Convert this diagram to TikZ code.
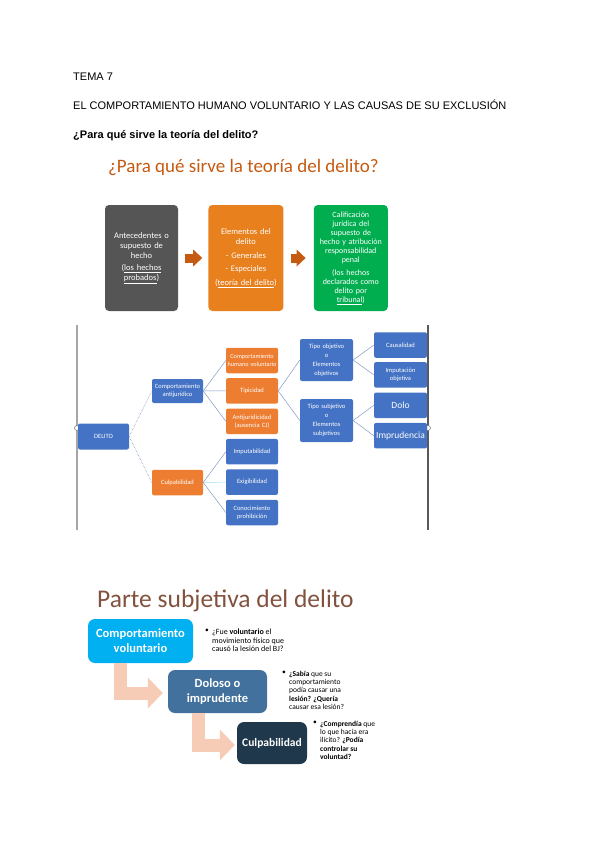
\documentclass[tikz,border=0pt]{standalone}
\usepackage{fontspec}
\setmainfont{Liberation Sans}
\newfontfamily\calibri{Carlito}
\usetikzlibrary{positioning}
\usetikzlibrary{calc}
\usetikzlibrary{arrows.meta}

\definecolor{gris}{RGB}{85,85,85}
\definecolor{naranja}{RGB}{232,128,30}
\definecolor{verde}{RGB}{0,174,80}
\definecolor{flecha}{RGB}{197,90,17}
\definecolor{azul}{RGB}{68,114,196}
\definecolor{naranjo}{RGB}{237,125,49}
\definecolor{linea}{RGB}{130,155,198}
\definecolor{marron}{RGB}{130,82,62}
\definecolor{cian}{RGB}{0,176,240}
\definecolor{acero}{RGB}{65,113,156}
\definecolor{marino}{RGB}{32,56,76}
\definecolor{salmon}{RGB}{246,204,182}

\tikzset{
    cabecera/.style={anchor=base west, inner sep=0pt, font=\fontsize{11}{13}\selectfont},
    topbox/.style={rounded corners=4pt, text=white, align=center, minimum height=106pt,
        inner sep=2pt, font=\calibri\fontsize{8.5}{10}\selectfont},
    blockarrow/.style={draw=flecha, line width=9pt, -{Triangle[length=9pt, width=17pt, line width=0pt]}},
    tbox/.style={rounded corners=2pt, text=white, align=center, minimum width=52pt, text width=51pt,
        minimum height=25.5pt, inner sep=0.5pt, font=\calibri\fontsize{6.5}{7.8}\selectfont},
    azulbox/.style={tbox, fill=azul},
    naranjobox/.style={tbox, fill=naranjo},
    rama/.style={draw=linea, line width=0.5pt},
    eje/.style={line width=1.4pt},
    bola/.style={circle, draw=gray, fill=white, inner sep=0pt, minimum size=5pt, line width=0.6pt},
    pasobox/.style={rounded corners=7pt, text=white, align=center, inner sep=2pt,
        font=\calibri\bfseries\fontsize{12.5}{15}\selectfont},
    bentarrow/.style={draw=salmon, line width=13pt, line join=miter,
        -{Triangle[length=15pt, width=31pt, line width=0pt]}},
    pregunta/.style={anchor=north west, inner sep=0pt, align=left, font=\calibri\fontsize{7.5}{8.2}\selectfont}
}

\begin{document}
\begin{tikzpicture}[x=1pt, y=-1pt]
    \useasboundingbox (0,0) rectangle (600,848);

    % encabezado del tema
    \node[cabecera] (tema) at (73,81) {TEMA 7};
    \node[cabecera] (capitulo) at (73,110) {EL COMPORTAMIENTO HUMANO VOLUNTARIO Y LAS CAUSAS DE SU EXCLUSIÓN};
    \node[cabecera, font=\bfseries\fontsize{11}{13}\selectfont] (pregunta) at (73,139) {¿Para qué sirve la teoría del delito?};

    % primera lámina
    \node[anchor=base west, inner sep=0pt, text=flecha, font=\calibri\fontsize{19}{22}\selectfont] (titulo1) at (108,172) {¿Para qué sirve la teoría del delito?};

    \node[topbox, fill=gris, minimum width=73pt, text width=68pt] (antec) at (141.5,258)
        {Antecedentes o\\supuesto de\\hecho\\[2pt](\underline{los hechos}\\\underline{probados})};
    \node[topbox, fill=naranja, minimum width=75pt, text width=70pt, right=30pt of antec] (elem)
        {Elementos del\\delito\\[4pt]- Generales\\[3pt]- Especiales\\[4pt](\underline{teoría del delito})};
    \node[topbox, fill=verde, minimum width=74pt, text width=70pt, right=30pt of elem,
        font=\calibri\fontsize{8}{9}\selectfont] (calif)
        {Calificación\\jurídica del\\supuesto de\\hecho y atribución\\responsabilidad\\penal\\[4pt](los hechos\\declarados como\\delito por\\\underline{tribunal})};

    \draw[blockarrow] ([xshift=7pt]antec.east) -- ([xshift=-6pt]elem.west);
    \draw[blockarrow] ([xshift=7pt]elem.east) -- ([xshift=-8pt]calif.west);

    % esquema del delito
    \draw[eje, draw=gray!70] (77,325) -- (77,530);
    \draw[eje, draw=black!65] (428,325) -- (428,530);
    \node[bola] (bolaizq) at (77,428) {};
    \node[bola] (boladch) at (428,428) {};

    \node[azulbox, minimum width=51pt, text width=50pt, minimum height=26pt] (delito) at (103.5,436.5) {DELITO};
    \node[azulbox, minimum width=51pt, text width=50pt, minimum height=24pt] (antij) at (177.5,391) {Comportamiento\\antijurídico};
    \node[naranjobox, minimum width=51pt, text width=50pt] (culp) at (177.5,482.5) {Culpabilidad};

    \node[naranjobox, font=\calibri\fontsize{6.2}{7.5}\selectfont] (hum) at (252,360.5) {Comportamiento\\humano voluntario};
    \node[naranjobox, below=4.5pt of hum] (tip) {Tipicidad};
    \node[naranjobox, below=4.5pt of tip] (antj) {Antijuridicidad\\(ausencia CJ)};
    \node[azulbox, below=4.5pt of antj] (imput) {Imputabilidad};
    \node[azulbox, below=4.5pt of imput] (exig) {Exigibilidad};
    \node[azulbox, below=4.5pt of exig] (conoc) {Conocimiento\\prohibición};

    \node[azulbox, minimum width=53pt, minimum height=42pt, font=\calibri\fontsize{6.5}{9}\selectfont] (tobj) at (326.5,360)
        {Tipo objetivo\\o\\Elementos\\objetivos};
    \node[azulbox, minimum width=53pt, minimum height=43pt, font=\calibri\fontsize{6.5}{9}\selectfont] (tsub) at (326.5,420.5)
        {Tipo subjetivo\\o\\Elementos\\subjetivos};

    \node[azulbox, minimum width=53pt] (caus) at (400.5,345) {Causalidad};
    \node[azulbox, minimum width=53pt, below=4pt of caus] (impobj) {Imputación\\objetiva};
    \node[azulbox, minimum width=53pt, below=4.5pt of impobj, font=\calibri\fontsize{9.5}{11}\selectfont] (dolo) {Dolo};
    \node[azulbox, minimum width=53pt, below=4.5pt of dolo, font=\calibri\fontsize{9.5}{11}\selectfont] (impr) {Imprudencia};

    \draw[rama, densely dotted, line width=0.7pt] (delito.east) -- (antij.west);
    \draw[rama, densely dotted, line width=0.7pt] (delito.east) -- (culp.west);
    \draw[rama] (antij.east) -- (hum.west);
    \draw[rama] (antij.east) -- (tip.west);
    \draw[rama] (antij.east) -- (antj.west);
    \draw[rama] (culp.east) -- (imput.west);
    \draw[rama, draw=cian!40] (culp.east) -- (exig.west);
    \draw[rama] (culp.east) -- (conoc.west);
    \draw[rama] (tip.east) -- (tobj.west);
    \draw[rama] (tip.east) -- (tsub.west);
    \draw[rama] (tobj.east) -- (caus.west);
    \draw[rama] (tobj.east) -- (impobj.west);
    \draw[rama] (tsub.east) -- (dolo.west);
    \draw[rama] (tsub.east) -- (impr.west);

    % segunda lámina
    \node[anchor=base west, inner sep=0pt, text=marron, font=\calibri\fontsize{25.5}{30}\selectfont] (titulo2) at (97,607) {Parte subjetiva del delito};

    \node[pasobox, fill=cian, minimum width=105pt, minimum height=44pt] (volunt) at (140.5,641) {Comportamiento\\voluntario};
    \node[pasobox, fill=acero, minimum width=99pt, minimum height=43pt] (doloso) at (217.5,691.5) {Doloso o\\imprudente};
    \node[pasobox, fill=marino, minimum width=70pt, minimum height=42pt,
        font=\calibri\bfseries\fontsize{11.5}{14}\selectfont] (culpab) at (272,743) {Culpabilidad};

    \coordinate (codo1) at ([xshift=32.5pt]volunt.south west);
    \coordinate (codo2) at ([xshift=30.5pt]doloso.south west);
    \draw[bentarrow] (codo1) |- ([xshift=-5pt, yshift=-1.5pt]doloso.west);
    \draw[bentarrow] (codo2) |- ([xshift=-2pt, yshift=-2pt]culpab.west);

    \node[pregunta] (bala1) at (205,629) {\textbullet};
    \node[pregunta, font=\calibri\fontsize{8}{8.4}\selectfont] (preg1) at (212,629)
        {¿Fue \textbf{voluntario} el\\movimiento físico que\\causó la lesión del BJ?};
    \node[pregunta] (bala2) at (282,671) {\textbullet};
    \node[pregunta] (preg2) at (289,671)
        {\textbf{¿Sabía} que su\\comportamiento\\podía causar una\\\textbf{lesión? ¿Quería}\\causar esa lesión?};
    \node[pregunta] (bala3) at (313,721) {\textbullet};
    \node[pregunta] (preg3) at (320,721)
        {\textbf{¿Comprendía} que\\lo que hacía era\\ilícito? \textbf{¿Podía}\\\textbf{controlar su}\\\textbf{voluntad?}};
\end{tikzpicture}
\end{document}
